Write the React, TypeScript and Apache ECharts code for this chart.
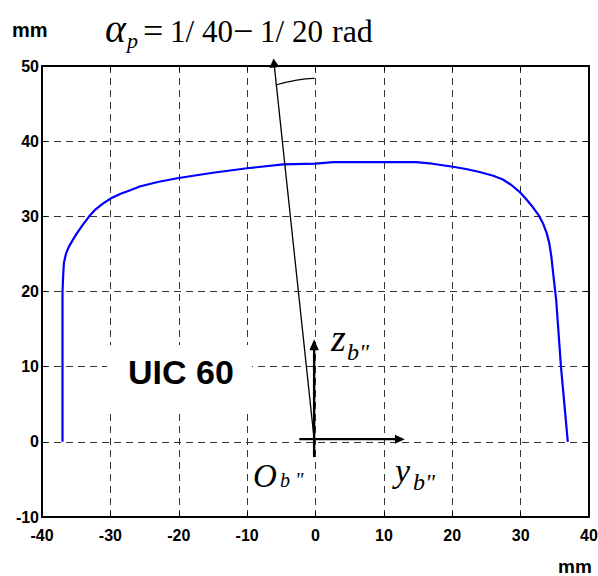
import React, { useEffect, useRef } from "react";
import * as echarts from "echarts";

// Rail head profile (UIC 60): lateral coordinate y (mm) and vertical coordinate z (mm)
const profileY = [-37.0, -37.0, -37.0, -36.9, -36.8, -36.5, -36.1, -35.6, -35.0, -34.1, -33.1, -32.2, -31.1, -29.9, -28.5, -27.0, -25.6, -22.9, -20.0, -15.0, -10.0, -4.7, 0.0, 2.6, 9.9, 14.7, 17.1, 20.1, 22.0, 24.0, 26.0, 27.4, 28.6, 29.8, 30.8, 31.8, 32.6, 33.3, 33.8, 34.2, 34.5, 34.7, 35.2, 35.9, 36.9];
const profileZ = [0, 10, 20, 22.2, 23.8, 25.0, 25.9, 26.7, 27.6, 28.8, 30.0, 30.9, 31.7, 32.4, 33.0, 33.5, 34.0, 34.6, 35.1, 35.8, 36.4, 36.9, 37.0, 37.2, 37.2, 37.2, 37.0, 36.6, 36.3, 35.9, 35.4, 34.9, 34.2, 33.3, 32.3, 31.2, 30.2, 29.0, 27.8, 26.4, 24.6, 22.9, 18.9, 10, 0];

const xMin = -40, xMax = 40, xStep = 10;
const yMin = -10, yMax = 50, yStep = 10;

// annotation anchors in data coordinates
const originPt = [-0.2, 0.36];
const tiltTip = [-6.14, 51.0];
const zArrowBottom = [-0.2, -2.03];
const zArrowTip = [-0.2, 13.65];
const yArrowLeft = [-2.37, 0.36];
const yArrowTip = [13.07, 0.36];

const SERIF = "'Liberation Serif', 'Times New Roman', serif";
const SANS = "'Liberation Sans', Arial, sans-serif";

function arrow(a: number[], b: number[], head: number, half: number, w: number) {
  const dx = b[0] - a[0], dy = b[1] - a[1];
  const L = Math.hypot(dx, dy);
  const ux = dx / L, uy = dy / L;
  const bx = b[0] - ux * head, by = b[1] - uy * head;
  const nx = -uy, ny = ux;
  return [
    { type: "line", z: 100, shape: { x1: a[0], y1: a[1], x2: bx + ux * 1, y2: by + uy * 1 }, style: { stroke: "#000", lineWidth: w } },
    { type: "polygon", z: 100, shape: { points: [[b[0], b[1]], [bx + nx * half, by + ny * half], [bx - nx * half, by - ny * half]] }, style: { fill: "#000" } },
  ];
}

function txt(text: string, x: number, y: number, size: number, family: string, italic = false, bold = false) {
  return {
    type: "text", z: 110, x, y,
    style: {
      text, fill: "#000", fontSize: size, fontFamily: family,
      fontStyle: italic ? "italic" : "normal", fontWeight: bold ? "bold" : "normal",
      align: "left", verticalAlign: "middle", textAlign: "left", textVerticalAlign: "middle",
    },
  };
}

export default function App() {
  const ref = useRef<HTMLDivElement>(null);
  useEffect(() => {
    if (!ref.current) return;
    const chart = echarts.init(ref.current, null, { renderer: "svg" });
    const data = profileY.map((v, i) => [v, profileZ[i]]);
    const axisLine = { show: true, onZero: false, lineStyle: { color: "#000", width: 2 } };
    const axisTick = { show: true, inside: true, length: 5, lineStyle: { color: "#000", width: 1 } };
    const splitLine = { show: true, lineStyle: { color: "#333", width: 1, type: [7, 5] as any } };
    const label = { color: "#000", fontSize: 16, fontWeight: "bold" as const, fontFamily: SANS };
    chart.setOption({
      animation: false,
      backgroundColor: "#fff",
      grid: { left: 42, right: 9, top: 66, bottom: 59, containLabel: false, outerBoundsMode: "none" },
      xAxis: [
        { type: "value", min: xMin, max: xMax, interval: xStep, position: "bottom", axisLine, axisTick, splitLine, axisLabel: { ...label, margin: 10 } },
        { type: "value", min: xMin, max: xMax, interval: xStep, position: "top", axisLine, axisTick, splitLine: { show: false }, axisLabel: { show: false } },
      ],
      yAxis: [
        { type: "value", min: yMin, max: yMax, interval: yStep, position: "left", axisLine, axisTick, splitLine, axisLabel: { ...label, margin: 3 } },
        { type: "value", min: yMin, max: yMax, interval: yStep, position: "right", axisLine, axisTick, splitLine: { show: false }, axisLabel: { show: false } },
      ],
      series: [
        {
          type: "line", xAxisIndex: 0, yAxisIndex: 0, data, showSymbol: false, symbol: "none",
          lineStyle: { color: "#0000ff", width: 2.2 }, clip: false, z: 5,
        },
      ],
    });
    const P = (pt: number[]) => chart.convertToPixel({ seriesIndex: 0 }, pt) as number[];
    const O = P(originPt);
    const T = P(tiltTip);
    const graphic: any[] = [
      // white box behind the UIC 60 label
      { type: "rect", z: 90, shape: { x: 107, y: 345, width: 145, height: 67 }, style: { fill: "#fff" } },
      txt("UIC 60", 128, 372, 34, SANS, false, true),
      ...arrow(O, T, 9, 5, 1.3),
      ...arrow(P(zArrowBottom), P(zArrowTip), 11, 4.7, 2.4),
      ...arrow(P(yArrowLeft), P(yArrowTip), 10, 4.5, 2.4),
      { type: "bezierCurve", z: 100, shape: { x1: 275.7, y1: 85, cpx1: 300, cpy1: 78, x2: 314.5, y2: 78.3 }, style: { stroke: "#000", lineWidth: 1.3, fill: "none" } },
      // title alpha_p = 1/40 - 1/20 rad
      txt("α", 105, 28.2, 40, SERIF, true),
      txt("p", 127, 40.6, 22, SERIF, true),
      txt("=", 143, 30.5, 36, SERIF),
      txt("1/", 170, 31.6, 31, SERIF),
      txt("40", 202, 31.6, 31, SERIF),
      txt("−", 233, 30.5, 36, SERIF),
      txt("1/", 260, 31.6, 31, SERIF),
      txt("20", 292, 31.6, 31, SERIF),
      txt("rad", 332, 31.2, 32, SERIF),
      // axis labels (units)
      txt("mm", 12, 30.1, 20, SANS, false, true),
      txt("mm", 558, 566, 19, SANS, false, true),
      // coordinate labels
      txt("z", 331, 338.2, 38, SERIF, true),
      txt("b\"", 347, 351.9, 24, SERIF, true),
      txt("O", 253, 476.2, 33, SERIF, true),
      txt("b \"", 280, 480, 20, SERIF, true),
      txt("y", 395, 470.5, 34, SERIF, true),
      txt("b\"", 413, 481.9, 24, SERIF, true),
    ];
    chart.setOption({ graphic });
    return () => chart.dispose();
  }, []);
  return <div ref={ref} style={{ position: "fixed", left: 0, top: 0, width: 598, height: 576 }} />;
}
